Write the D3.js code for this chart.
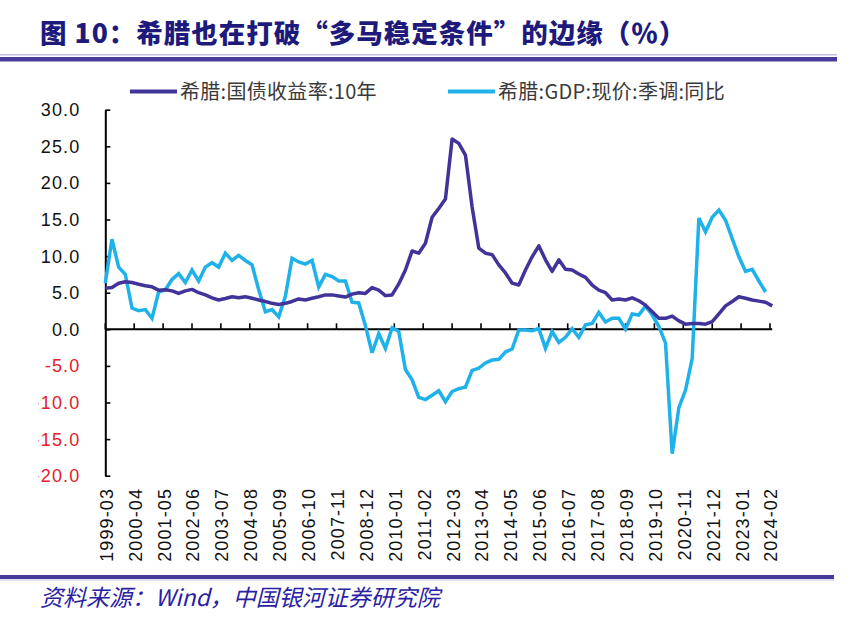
<!DOCTYPE html>
<html>
<head>
<meta charset="utf-8">
<script src="https://cdn.jsdelivr.net/npm/d3@7"></script>
<style>
  html, body { margin: 0; padding: 0; background: #fff; }
  svg { display: block; }
</style>
</head>
<body>
<svg id="chart" width="850" height="625"></svg>
<script>
// ---------------- data (quarterly, starting 1999-03) ----------------
const startYear = 1999, startMonth = 3;
const endYear = 2024, endMonth = 3;

const seriesNames = ["希腊:国债收益率:10年", "希腊:GDP:现价:季调:同比"];

// 希腊:国债收益率:10年  (1999-03 ... 2024-03, quarterly)
const yieldValues = [
  5.6, 5.7, 6.3, 6.5,
  6.4, 6.15, 5.95, 5.8,
  5.35, 5.4, 5.25, 4.9,
  5.25, 5.45, 5.0, 4.7,
  4.3, 4.0, 4.2, 4.45,
  4.3, 4.45, 4.25, 4.0,
  3.8, 3.55, 3.4, 3.55,
  3.8, 4.15, 4.0, 4.25,
  4.45, 4.7, 4.7, 4.55,
  4.4, 4.8, 5.0, 4.9,
  5.7, 5.35, 4.6, 4.7,
  6.2, 8.1, 10.7, 10.4,
  11.75, 15.3, 16.5, 17.8,
  26.0, 25.4, 23.8, 16.7,
  11.1, 10.4, 10.2, 8.8,
  7.7, 6.3, 6.05, 8.1,
  9.9, 11.4, 9.5, 7.9,
  9.5, 8.2, 8.1, 7.55,
  7.1, 6.05, 5.35, 5.0,
  4.0, 4.15, 4.0, 4.3,
  3.9, 3.3, 2.4, 1.5,
  1.5, 1.8, 1.15, 0.7,
  0.8, 0.8, 0.7, 1.05,
  2.1, 3.2, 3.8, 4.45,
  4.25, 4.0, 3.85, 3.7,
  3.2
];

// 希腊:GDP:现价:季调:同比  (1999-03 ... 2023-12, quarterly)
const gdpValues = [
  6.3, 12.3, 8.5, 7.5,
  2.9, 2.55, 2.7, 1.5,
  5.1, 5.4, 6.8, 7.6,
  6.4, 8.1, 6.6, 8.5,
  9.1, 8.5, 10.4, 9.4,
  10.1, 9.4, 8.8, 5.4,
  2.4, 2.7, 1.7, 4.5,
  9.7, 9.2, 8.9, 9.4,
  5.8, 7.5, 7.2, 6.6,
  6.6, 3.7, 3.6, 0.5,
  -3.2, -0.6, -2.6, 0.2,
  -0.3, -5.5, -6.9, -9.3,
  -9.6, -9.0, -8.4, -9.9,
  -8.5, -8.1, -7.9, -5.6,
  -5.3, -4.6, -4.2, -4.1,
  -3.1, -2.7, -0.1, -0.1,
  -0.2, 0.1, -2.6, -0.3,
  -1.8, -1.1, 0.1, -1.1,
  0.6, 0.8, 2.3, 1.0,
  1.5, 1.5, 0.0, 2.1,
  1.95, 3.2, 1.95, 0.4,
  -1.9, -17.0, -10.7, -8.3,
  -4.0, 15.2, 13.3, 15.3,
  16.3, 14.9, 12.4, 9.9,
  7.9, 8.2, 6.6, 5.1
];

const yTicks = [30, 25, 20, 15, 10, 5, 0, -5, -10, -15, -20];
const xTickLabels = [
  "1999-03","2000-04","2001-05","2002-06","2003-07","2004-08","2005-09","2006-10",
  "2007-11","2008-12","2010-01","2011-02","2012-03","2013-04","2014-05","2015-06",
  "2016-07","2017-08","2018-09","2019-10","2020-11","2021-12","2023-01","2024-02"
];

const titleText = "图 10：希腊也在打破“多马稳定条件”的边缘（％）";
const sourceText = "资料来源：Wind，中国银河证券研究院";

// ---------------- monthly category axis ----------------
const pad = n => (n < 10 ? "0" : "") + n;
const months = [];
for (let yy = startYear, m = startMonth; yy < endYear || (yy === endYear && m <= endMonth); ) {
  months.push(yy + "-" + pad(m));
  m++; if (m > 12) { m = 1; yy++; }
}

const svg = d3.select("#chart");
const colors = ["#40349a", "#1fb1e9"];

const x0 = 105.3, pxPerMonth = 2.2231;
const x = d3.scalePoint().domain(months).range([x0, x0 + (months.length - 1) * pxPerMonth]);
const y = d3.scaleLinear().domain([-20, 30]).range([475.7, 109.7]);

// ---------------- title & rules ----------------
svg.append("text")
  .attr("x", 40).attr("y", 43)
  .attr("font-family", "'Noto Sans CJK SC', sans-serif")
  .attr("font-weight", "900")
  .attr("font-size", 26.5)
  .attr("letter-spacing", 1.0)
  .attr("fill", "#1e1a7c")
  .text(titleText);

svg.append("rect").attr("x", 0).attr("y", 54).attr("width", 837).attr("height", 1.5).attr("fill", "#c3bde0");
svg.append("rect").attr("x", 0).attr("y", 57).attr("width", 837).attr("height", 4.5).attr("fill", "#463a9b");

svg.append("rect").attr("x", 0).attr("y", 575).attr("width", 834).attr("height", 4).attr("fill", "#463a9b");
svg.append("rect").attr("x", 0).attr("y", 579.5).attr("width", 834).attr("height", 1).attr("fill", "#c3bde0");

svg.append("text")
  .attr("x", 40).attr("y", 606)
  .attr("font-family", "'Noto Sans CJK SC', sans-serif")
  .attr("font-style", "italic")
  .attr("font-size", 23)
  .attr("fill", "#2b22a3")
  .text(sourceText);

// ---------------- legend ----------------
const legendX = [130, 448];
const legend = svg.append("g");
seriesNames.forEach((name, i) => {
  legend.append("line")
    .attr("x1", legendX[i]).attr("x2", legendX[i] + 47)
    .attr("y1", 91.5).attr("y2", 91.5)
    .attr("stroke", colors[i]).attr("stroke-width", 4);
  legend.append("text")
    .attr("x", legendX[i] + 50).attr("y", 98.5)
    .attr("font-family", "'Noto Sans CJK SC', 'Liberation Sans', sans-serif")
    .attr("font-size", 20)
    .attr("letter-spacing", 0.3)
    .attr("fill", "#3a3a3a")
    .text(name);
});

// ---------------- axes ----------------
const defs = svg.append("defs");
defs.append("clipPath").attr("id", "ylabclip")
  .append("rect").attr("x", 38.5).attr("y", 90).attr("width", 80).attr("height", 400);

const yAxis = d3.axisLeft(y)
  .tickValues(yTicks)
  .tickFormat("")
  .tickSizeInner(-5)
  .tickSizeOuter(0);

const yg = svg.append("g")
  .attr("transform", `translate(${x0},0)`)
  .call(yAxis);
yg.select(".domain").attr("stroke", "#000").attr("stroke-width", 2);
yg.selectAll(".tick line").attr("stroke", "#000").attr("stroke-width", 1.6);

// y tick labels (clipped on the left, which cuts leading minus signs as in the original)
svg.append("g").attr("clip-path", "url(#ylabclip)")
  .selectAll("text").data(yTicks).enter().append("text")
  .attr("x", x0 - 25)
  .attr("y", d => y(d))
  .attr("dy", "0.36em")
  .attr("text-anchor", "end")
  .attr("font-family", "'Liberation Sans', Arial, sans-serif")
  .attr("font-size", 18)
  .attr("letter-spacing", 1.1)
  .attr("fill", d => d < 0 ? "#e3202b" : "#111")
  .text(d => d.toFixed(1));

// x axis at zero
const xg = svg.append("g");
xg.append("line")
  .attr("x1", x0).attr("x2", x(months[months.length - 1]))
  .attr("y1", y(0)).attr("y2", y(0))
  .attr("stroke", "#000").attr("stroke-width", 2);
xg.selectAll("line.xt").data(xTickLabels).enter().append("line")
  .attr("class", "xt")
  .attr("x1", d => x(d)).attr("x2", d => x(d))
  .attr("y1", y(0)).attr("y2", y(0) - 6)
  .attr("stroke", "#000").attr("stroke-width", 1.6);

xg.selectAll("text.xl").data(xTickLabels).enter().append("text")
  .attr("class", "xl")
  .attr("transform", d => `translate(${x(d) + 1},488) rotate(-90)`)
  .attr("text-anchor", "end")
  .attr("dy", "0.36em")
  .attr("font-family", "'Liberation Sans', Arial, sans-serif")
  .attr("font-size", 18)
  .attr("letter-spacing", 1.1)
  .attr("fill", "#111")
  .text(d => d);

// ---------------- lines ----------------
const toPoints = vals => vals.map((v, i) => ({ m: months[i * 3], v }));
const line = d3.line().x(d => x(d.m)).y(d => y(d.v));

svg.append("path")
  .datum(toPoints(gdpValues))
  .attr("d", line)
  .attr("fill", "none")
  .attr("stroke", colors[1])
  .attr("stroke-width", 3.5)
  .attr("stroke-linejoin", "miter")
  .attr("stroke-miterlimit", 3);

svg.append("path")
  .datum(toPoints(yieldValues))
  .attr("d", line)
  .attr("fill", "none")
  .attr("stroke", colors[0])
  .attr("stroke-width", 3.5)
  .attr("stroke-linejoin", "round");
</script>
</body>
</html>
